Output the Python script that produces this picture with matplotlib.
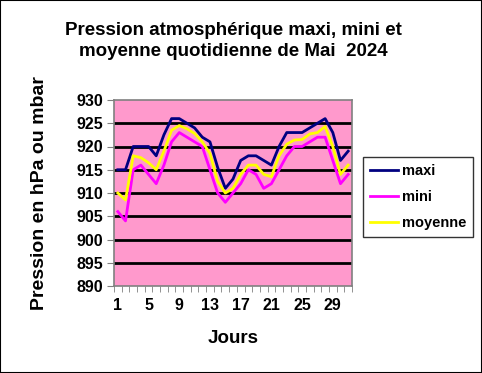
import numpy as np
import matplotlib.pyplot as plt
from matplotlib.patches import Rectangle

plt.rcParams['font.family'] = ['Liberation Sans', 'DejaVu Sans']

jours = np.arange(1, 32)
maxi = [915, 915, 920, 920, 920, 918, 922.5, 926, 926, 925, 924, 922, 921, 915.5, 911, 913,
        917, 918, 918, 917, 916, 920, 923, 923, 923, 924, 925, 926, 923, 917, 919]
mini = [906, 904, 915, 916, 914, 912, 916, 921, 923, 922, 921, 920, 915, 910, 908, 910,
        912, 915, 914, 911, 912, 915, 918, 920, 920, 921, 922, 922, 917, 912, 914]
moyenne = [910, 908.5, 918, 917.6, 916.5, 915, 919, 923.5, 924.5, 923.8, 922.8, 921, 918.5, 912.5, 910, 911,
           914, 916, 916, 914, 913.5, 918, 920.5, 921.4, 921.5, 922.7, 923, 924.3, 920, 914, 916]
xlabels = [1, 5, 9, 13, 17, 21, 25, 29]

fig = plt.figure(figsize=(4.82, 3.73), dpi=100)
fig.patches.append(Rectangle((0, 0), 1, 1, transform=fig.transFigure, fill=False,
                             edgecolor='black', linewidth=1.5))

ax = fig.add_axes([114/482, 1-286/373, 238/482, 186/373])
ax.set_facecolor('#FF99CC')
for v in range(895, 930, 5):
    ax.axhline(v, color='black', linewidth=2, zorder=1)
ax.plot(jours, maxi, color='#000080', linewidth=2, label='maxi', zorder=3)
ax.plot(jours, mini, color='#FF00FF', linewidth=2, label='mini', zorder=3)
ax.plot(jours, moyenne, color='#FFFF00', linewidth=2, label='moyenne', zorder=3)

ax.set_xlim(0.5, 31.5)
ax.set_ylim(890, 930)
ax.set_yticks(range(890, 931, 5))
ax.set_xticks(xlabels)
ax.set_xticks(np.arange(0.5, 32, 1), minor=True)
ax.tick_params(axis='x', which='major', length=0, pad=9)
ax.tick_params(axis='x', which='minor', length=4, direction='out', color='#808080')
ax.tick_params(axis='y', length=5, direction='out', color='#808080', pad=3)
for lab in ax.get_xticklabels() + ax.get_yticklabels():
    lab.set_fontweight('bold')
    lab.set_fontsize(11.5)
for s in ax.spines.values():
    s.set_color('#808080')
    s.set_linewidth(1.2)

ax.set_xlabel('Jours', fontsize=13.5, fontweight='bold', labelpad=12)
ax.set_ylabel('Pression en hPa ou mbar', fontsize=14, fontweight='bold', labelpad=20)
fig.text(0.485, 0.94, 'Pression atmosphérique maxi, mini et\nmoyenne quotidienne de Mai  2024',
         ha='center', va='top', fontsize=13.5, fontweight='bold', linespacing=1.3)

leg = fig.legend(loc='upper left', bbox_to_anchor=(363/482, 1-157/373), frameon=True,
                 fancybox=False, edgecolor='black', prop={'weight': 'bold', 'size': 10.5},
                 handlelength=1.9, handletextpad=0.25, borderpad=0.5, labelspacing=0.8,
                 borderaxespad=0)
leg.get_frame().set_linewidth(1)

fig.savefig('out.png', dpi=100)
